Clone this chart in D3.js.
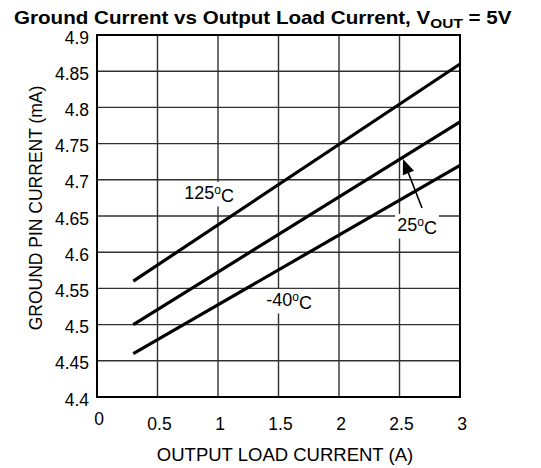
<!DOCTYPE html>
<html><head><meta charset="utf-8">
<script src="https://cdn.jsdelivr.net/npm/d3@7"></script>
<style>body{margin:0;background:#fff}text{font-family:"Liberation Sans",Arial,sans-serif;fill:#000}</style>
</head><body><svg id="c" width="541" height="468"></svg>
<script>
const xTicks = [0, 0.5, 1, 1.5, 2, 2.5, 3];
const yTicks = [4.4, 4.45, 4.5, 4.55, 4.6, 4.65, 4.7, 4.75, 4.8, 4.85, 4.9];
const loadCurrent = [0.3, 3];
const series = [
  {name: "125", values: [4.56, 4.86]},
  {name: "25", values: [4.50, 4.78]},
  {name: "-40", values: [4.46, 4.72]}
];
const labels = [
  {text: "125", x: 0.926, y: 4.6735},
  {text: "25", x: 2.645, y: 4.6293},
  {text: "-40", x: 1.587, y: 4.5257}
];
const arrow = {from: [2.686, 4.661], to: [2.529, 4.7287]};

const svg = d3.select("#c");
const m = {l: 97, r: 460, t: 35, b: 397};
const x = d3.scaleLinear().domain([0, 3]).range([m.l, m.r]);
const y = d3.scaleLinear().domain([4.4, 4.9]).range([m.b, m.t]);

// grid
svg.append("g").selectAll("line").data(xTicks.slice(1, -1)).join("line")
  .attr("x1", d => x(d)).attr("x2", d => x(d)).attr("y1", m.t).attr("y2", m.b)
  .attr("stroke", "#303030").attr("stroke-width", 1.4);
svg.append("g").selectAll("line").data(yTicks.slice(1, -1)).join("line")
  .attr("y1", d => y(d)).attr("y2", d => y(d)).attr("x1", m.l).attr("x2", m.r)
  .attr("stroke", "#303030").attr("stroke-width", 1.4);

// label backgrounds
const lab = svg.append("g");
labels.forEach(l => {
  const t = lab.append("text").attr("x", x(l.x)).attr("y", y(l.y))
    .attr("text-anchor", "middle").style("font-size", "18px");
  t.append("tspan").text(l.text);
  t.append("tspan").text("o").attr("dy", "-0.42em").style("font-size", "12px");
  t.append("tspan").text("C").attr("dy", "0.42em");
  const bb = t.node().getBBox();
  lab.insert("rect", "text").attr("x", bb.x - 2).attr("y", bb.y - 1).attr("width", bb.width + 4).attr("height", bb.height + 2).attr("fill", "#fff");
});

// border
svg.append("rect").attr("x", m.l).attr("y", m.t).attr("width", m.r - m.l).attr("height", m.b - m.t)
  .attr("fill", "none").attr("stroke", "#000").attr("stroke-width", 2);

// data lines
const line = d3.line().x((d, i) => x(loadCurrent[i])).y(d => y(d));
svg.append("g").selectAll("path").data(series).join("path")
  .attr("d", d => line(d.values)).attr("fill", "none").attr("stroke", "#000").attr("stroke-width", 3.2);

// arrow
const ax1 = x(arrow.from[0]), ay1 = y(arrow.from[1]), ax2 = x(arrow.to[0]), ay2 = y(arrow.to[1]);
const ang = Math.atan2(ay2 - ay1, ax2 - ax1);
const L = 15, W = 6;
const bx = ax2 - L * Math.cos(ang), by = ay2 - L * Math.sin(ang);
svg.append("line").attr("x1", ax1).attr("y1", ay1).attr("x2", bx).attr("y2", by).attr("stroke", "#000").attr("stroke-width", 1.6);
svg.append("path").attr("d", `M${ax2},${ay2}L${bx + W * Math.sin(ang)},${by - W * Math.cos(ang)}L${bx - W * Math.sin(ang)},${by + W * Math.cos(ang)}Z`).attr("fill", "#000");

// tick labels
svg.append("g").selectAll("text").data(yTicks).join("text")
  .attr("x", 89).attr("y", d => y(d) + 8.5).attr("text-anchor", "end")
  .style("font-size", "17.5px").text(d => d);
svg.append("g").selectAll("text").data(xTicks).join("text")
  .attr("x", d => x(d) + 2).attr("y", d => d === 0 ? 425 : 430).attr("text-anchor", "middle")
  .style("font-size", "17.5px").text(d => d);

// axis titles
svg.append("text").attr("x", 285).attr("y", 461).attr("text-anchor", "middle").style("font-size", "18.5px").text("OUTPUT LOAD CURRENT (A)");
svg.append("text").attr("transform", "translate(42,208) rotate(-90)").attr("text-anchor", "middle").style("font-size", "17.5px").text("GROUND PIN CURRENT (mA)");

// title
const tg = svg.append("g");
const tt = tg.append("text").attr("x", 0).attr("y", 0).style("font-size", "18px").style("font-weight", "bold");
tt.append("tspan").text("Ground Current vs Output Load Current, V");
tt.append("tspan").text("OUT").attr("dy", 4).style("font-size", "13.5px");
tt.append("tspan").text(" = 5V").attr("dy", -4);
const tw = tt.node().getBBox().width;
tg.attr("transform", `translate(14,24) scale(${498 / tw},1)`);
</script></body></html>
